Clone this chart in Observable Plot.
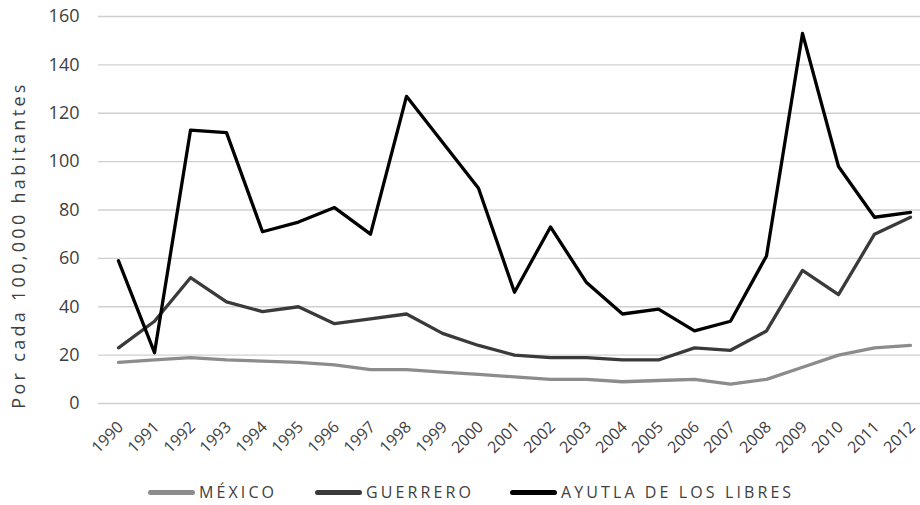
<!DOCTYPE html>
<html><head><meta charset="utf-8">
<script src="https://cdn.jsdelivr.net/npm/d3@7"></script>
<script src="https://cdn.jsdelivr.net/npm/@observablehq/plot@0.6"></script>
<style>
body{margin:0;background:#fff;font-family:"Open Sans",sans-serif;}
#wrap{position:relative;width:920px;height:505px;}
#ylabel{position:absolute;left:18px;top:245px;transform:translate(-50%,-50%) rotate(-90deg);white-space:nowrap;font-size:18px;letter-spacing:3.3px;color:#404040;}
#legend{position:absolute;top:482px;left:0;width:920px;height:20px;}
.item{position:absolute;top:0;display:flex;align-items:center;font-size:16px;letter-spacing:3.1px;color:#404040;line-height:20px;height:20px;}
.sw{display:inline-block;width:47px;height:5px;border-radius:3px;margin-right:4px;}
</style></head><body>
<div id="wrap"><div id="chart"></div><div id="ylabel"></div><div id="legend"></div></div>
<script>
const years = ["1990","1991","1992","1993","1994","1995","1996","1997","1998","1999","2000","2001","2002","2003","2004","2005","2006","2007","2008","2009","2010","2011","2012"];
const mexico = [17,18,19,18,17.5,17,16,14,14,13,12,11,10,10,9,9.5,10,8,10,15,20,23,24];
const guerrero = [23,34,52,42,38,40,33,35,37,29,24,20,19,19,18,18,23,22,30,55,45,70,77];
const ayutla = [59,21,113,112,71,75,81,70,127,108,89,46,73,50,37,39,30,34,61,153,98,77,79];
const seriesNames = ["MÉXICO","GUERRERO","AYUTLA DE LOS LIBRES"];
const seriesColors = ["#8c8c8c","#3a3a3a","#000000"];
const yTicks = [0,20,40,60,80,100,120,140,160];
const yTitle = "Por cada 100,000 habitantes";

const rows = [];
[mexico, guerrero, ayutla].forEach((arr, s) => arr.forEach((v, i) => rows.push({year: years[i], value: v, series: seriesNames[s]})));

const chart = Plot.plot({
  width: 920, height: 470,
  marginLeft: 98, marginRight: 0, marginTop: 16, marginBottom: 67,
  style: {fontFamily: "Open Sans, sans-serif", fontSize: "18px", color: "#404040", overflow: "visible"},
  x: {type: "point", domain: years, range: [116, 911], padding: 0, label: null},
  y: {domain: [0, 160], ticks: yTicks, label: null},
  color: {domain: seriesNames, range: seriesColors},
  marks: [
    Plot.ruleY(yTicks, {stroke: "#d0d0d0", strokeWidth: 1.3}),
    Plot.axisY({ticks: yTicks, tickSize: 0, tickPadding: 19, label: null, fill: "#404040"}),
    Plot.axisX({tickSize: 0, tickRotate: -45, tickPadding: 21, dx: 2, fontSize: 16, fill: "#404040", label: null}),
    Plot.lineY(rows, {x: "year", y: "value", z: "series", stroke: "series", strokeWidth: 3.3, strokeLinejoin: "round", strokeLinecap: "round"})
  ]
});
document.getElementById("chart").appendChild(chart);
document.getElementById("ylabel").textContent = yTitle;

const legend = document.getElementById("legend");
const lefts = [148, 315, 510];
seriesNames.forEach((n, i) => {
  const d = document.createElement("div");
  d.className = "item";
  d.style.left = lefts[i] + "px";
  d.innerHTML = `<span class="sw" style="background:${seriesColors[i]}"></span>${n}`;
  legend.appendChild(d);
});
</script></body></html>
